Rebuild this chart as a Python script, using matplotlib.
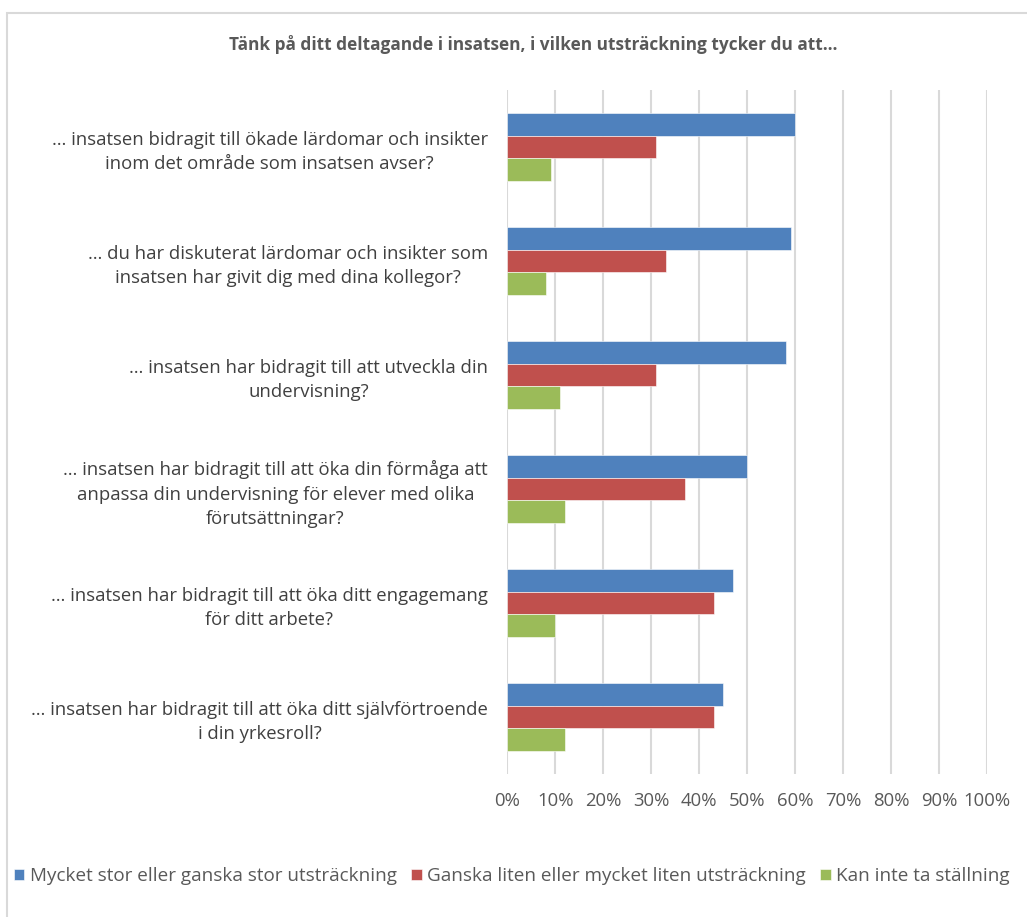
import matplotlib.pyplot as plt
import numpy as np
from matplotlib.patches import Rectangle

plt.rcParams['font.family'] = ['Open Sans', 'DejaVu Sans']

title = 'Tänk på ditt deltagande i insatsen, i vilken utsträckning tycker du att…'

questions = [
    '… insatsen bidragit till ökade lärdomar och insikter\ninom det område som insatsen avser?',
    '… du har diskuterat lärdomar och insikter som\ninsatsen har givit dig med dina kollegor?',
    '… insatsen har bidragit till att utveckla din\nundervisning?',
    '… insatsen har bidragit till att öka din förmåga att\nanpassa din undervisning för elever med olika\nförutsättningar?',
    '… insatsen har bidragit till att öka ditt engagemang\nför ditt arbete?',
    '… insatsen har bidragit till att öka ditt självförtroende\ni din yrkesroll?',
]

series_names = [
    'Mycket stor eller ganska stor utsträckning',
    'Ganska liten eller mycket liten utsträckning',
    'Kan inte ta ställning',
]
stor = [60, 59, 58, 50, 47, 45]
liten = [31, 33, 31, 37, 43, 43]
kan_inte = [9, 8, 11, 12, 10, 12]

colors = ['#4F81BD', '#C0504D', '#9BBB59']
text_color = '#595959'

fig = plt.figure(figsize=(10.27, 9.17), dpi=100)
ax = fig.add_axes([507.3 / 1027, (917 - 774) / 917, 480 / 1027, 684 / 917])

y = np.arange(len(questions))
h = 0.2
for i, (vals, name) in enumerate(zip([stor, liten, kan_inte], series_names)):
    ax.barh(y + (i - 1) * h, vals, height=h, color=colors[i], label=name,
            edgecolor='white', linewidth=0.4, zorder=3)

ax.set_xlim(0, 100)
ax.set_ylim(len(questions) - 0.5, -0.5)
ax.set_xticks(np.arange(0, 101, 10))
ax.set_xticklabels([f'{v}%' for v in range(0, 101, 10)])
ax.set_yticks(y)
ax.set_yticklabels(questions)
for t in ax.get_yticklabels():
    t.set_multialignment('center')
    t.set_linespacing(1.45)

ax.grid(axis='x', color='#D9D9D9', linewidth=1.5, zorder=0)
for s in ax.spines.values():
    s.set_visible(False)
ax.tick_params(axis='both', length=0, labelsize=13.3, colors=text_color)
ax.tick_params(axis='y', pad=14)
ax.tick_params(axis='x', pad=13)
for t in ax.get_yticklabels():
    t.set_color('#404040')

fig.text(533 / 1027, 1 - 45 / 917, title, ha='center', va='center',
         fontsize=12.4, fontweight='bold', color=text_color)

leg = fig.legend(loc='center left', bbox_to_anchor=(14 / 1027, 1 - 876 / 917),
                 ncol=3, frameon=False, fontsize=13.6, handlelength=0.55,
                 handleheight=0.55, handletextpad=0.3, columnspacing=0.75,
                 borderaxespad=0, borderpad=0)
for t in leg.get_texts():
    t.set_color(text_color)

fig.patches.append(Rectangle((7 / 1027, -0.1), 1.2, 1 - 13 / 917 + 0.1,
                             transform=fig.transFigure, fill=False,
                             edgecolor='#D9D9D9', linewidth=1.5))

fig.savefig('out.png', dpi=100)
